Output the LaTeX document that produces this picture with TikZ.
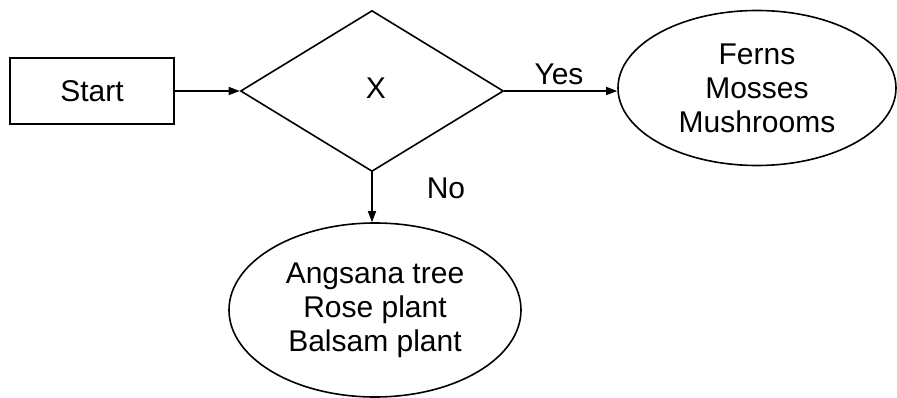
\documentclass[tikz,border=0pt]{standalone}
\usepackage{fontspec}
\setmainfont{Liberation Sans}
\usetikzlibrary{shapes.geometric,arrows.meta}

\begin{document}
\begin{tikzpicture}[x=1pt,y=-1pt,
  every node/.style={font=\fontsize{30}{34}\selectfont},
  outline/.style={draw, line width=1.6pt},
  startbox/.style={outline, rectangle, minimum width=164pt, minimum height=66pt, inner sep=0pt},
  decision/.style={outline, diamond, minimum width=263pt, minimum height=161pt, inner sep=0pt},
  group/.style={outline, ellipse, inner sep=0pt, align=center},
  flow/.style={line width=1.6pt, -{Triangle[length=11pt,width=8pt]}},
  tag/.style={inner sep=0pt}
]
  \useasboundingbox (0,0) rectangle (897,398);

  % boxes
  \node[startbox] (start) at (92,91) {Start};
  \node[decision] (dec) at (372,91) {};
  \node[tag] (xlabel) at (376,88) {X};
  \node[group, minimum width=278pt, minimum height=155pt] (yesgrp) at (757,88)
    {Ferns\\Mosses\\Mushrooms};
  \node[group, minimum width=292pt, minimum height=174pt] (nogrp) at (375,310)
    {Angsana tree\\Rose plant\\Balsam plant};

  % connectors
  \draw[flow] (start.east) -- (dec.west);
  \draw[flow] (dec.east) -- (dec.east -| yesgrp.west);
  \draw[flow] (dec.south) -- (dec.south |- nogrp.north);

  % branch labels
  \node[tag] (yeslbl) at (559,74) {Yes};
  \node[tag] (nolbl) at (446,188) {No};
\end{tikzpicture}
\end{document}
